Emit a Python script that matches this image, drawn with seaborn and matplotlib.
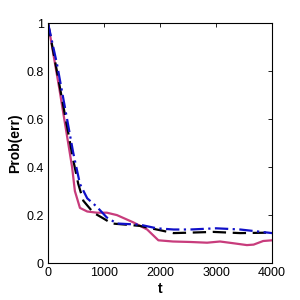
import numpy as np
import pandas as pd
import matplotlib
matplotlib.use('Agg')
import matplotlib.pyplot as plt
import seaborn as sns

# curves
t_mag = [0, 200, 430, 480, 570, 700, 875, 1050, 1230, 1520, 1770, 1970, 2230, 2540, 2840, 3070, 3300, 3550, 3670, 3840, 4000]
p_mag = [1.0, 0.73, 0.40, 0.30, 0.23, 0.215, 0.21, 0.21, 0.20, 0.17, 0.14, 0.095, 0.09, 0.088, 0.085, 0.09, 0.083, 0.075, 0.077, 0.092, 0.095]

t_blk = [0, 214, 450, 540, 630, 810, 960, 1140, 1400, 1640, 1940, 2240, 2540, 2950, 3430, 4000]
p_blk = [1.0, 0.73, 0.43, 0.33, 0.26, 0.21, 0.19, 0.165, 0.16, 0.155, 0.14, 0.125, 0.127, 0.13, 0.125, 0.127]

t_blu = [0, 160, 450, 570, 700, 870, 1050, 1230, 1640, 1940, 2240, 2540, 3000, 3430, 4000]
p_blu = [1.0, 0.83, 0.46, 0.33, 0.27, 0.235, 0.19, 0.165, 0.16, 0.145, 0.14, 0.14, 0.145, 0.14, 0.125]

sns.set_style('white')
plt.rcParams['font.family'] = ['Liberation Sans', 'DejaVu Sans']
plt.rcParams['text.color'] = 'black'
plt.rcParams['axes.labelcolor'] = 'black'

fig = plt.figure(figsize=(3, 3), dpi=100)
ax = fig.add_axes([0.16, 0.123, 0.747, 0.8])

sns.lineplot(x=t_mag, y=p_mag, color='#c83c7c', linewidth=1.6, ax=ax)
sns.lineplot(x=t_blk, y=p_blk, color='black', linewidth=1.6, linestyle=(0, (6, 3)), ax=ax)
sns.lineplot(x=t_blu, y=p_blu, color='#1010c8', linewidth=1.6, linestyle=(0, (6, 2, 1, 2)), ax=ax)

ax.set_xlim(0, 4000); ax.set_ylim(0, 1)
ax.set_xticks([0, 1000, 2000, 3000, 4000])
ax.set_yticks([0, 0.2, 0.4, 0.6, 0.8, 1])
ax.set_yticklabels(['0', '0.2', '0.4', '0.6', '0.8', '1'])
ax.tick_params(direction='in', top=True, right=True, length=3, width=0.6, labelsize=9, pad=3,
               colors='black')
for s in ax.spines.values():
    s.set_linewidth(0.8); s.set_color('black')
ax.set_xlabel('t', fontsize=10, fontweight='bold', labelpad=2)
ax.set_ylabel('Prob(err)', fontsize=10, fontweight='bold', labelpad=3)

fig.savefig('out.png', dpi=100)
